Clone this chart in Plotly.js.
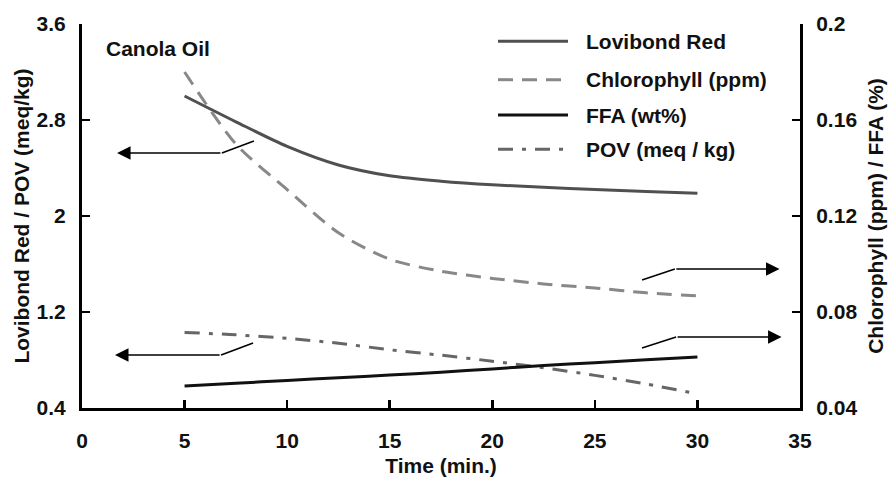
<!DOCTYPE html>
<html>
<head>
<meta charset="utf-8">
<script src="https://cdn.plot.ly/plotly-3.0.1.min.js"></script>
<style>html,body{margin:0;padding:0;background:#fff;}#chart{width:889px;height:477px;}</style>
</head>
<body>
<div id="chart"></div>
<script>
// ---- data ----
const timeMin = [5, 7.5, 10, 12.5, 15, 17.5, 20, 22.5, 25, 27.5, 30];
const lovibondRed = [3.0, 2.785, 2.58, 2.425, 2.335, 2.29, 2.26, 2.24, 2.22, 2.205, 2.19];
const chlorophyll = [0.180, 0.150, 0.131, 0.113, 0.102, 0.097, 0.094, 0.0917, 0.090, 0.088, 0.0867];
const ffa = [0.0492, 0.0503, 0.0515, 0.0526, 0.0537, 0.0549, 0.0563, 0.0577, 0.0589, 0.0601, 0.0612];
const pov = [1.03, 1.01, 0.98, 0.94, 0.885, 0.84, 0.79, 0.735, 0.672, 0.60, 0.517];

const seriesNames = ['Lovibond Red', 'Chlorophyll (ppm)', 'FFA (wt%)', 'POV (meq / kg)'];
const xTicks = [0, 5, 10, 15, 20, 25, 30, 35];
const yLeftTicks = [0.4, 1.2, 2, 2.8, 3.6];
const yLeftTickText = ['0.4', '1.2', '2', '2.8', '3.6'];
const yRightTicks = [0.04, 0.08, 0.12, 0.16, 0.2];
const yRightTickText = ['0.04', '0.08', '0.12', '0.16', '0.2'];

// ---- styles ----
const FONT = 'Liberation Sans, Arial, sans-serif';
const TXT = '#111';
const FS = 21;
const styles = [
  {color: '#505050', dash: 'solid', axis: 'y'},
  {color: '#888888', dash: '15px,9px', axis: 'y2'},
  {color: '#111111', dash: 'solid', axis: 'y2'},
  {color: '#666666', dash: '15px,9px,4px,9px', axis: 'y'}
];
const seriesData = [lovibondRed, chlorophyll, ffa, pov];

const traces = seriesData.map((vals, i) => ({
  x: timeMin, y: vals, name: seriesNames[i], type: 'scatter', mode: 'lines',
  yaxis: styles[i].axis,
  line: {color: styles[i].color, width: 3, dash: styles[i].dash, shape: 'spline', smoothing: 0.8},
  showlegend: false, hoverinfo: 'skip'
}));

// custom legend (paper coordinates)
const legY = [0.955, 0.855, 0.763, 0.674];
const shapes = [];
const annotations = [];
seriesNames.forEach((n, i) => {
  shapes.push({type: 'line', xref: 'paper', yref: 'paper',
    x0: (498 - 82) / 718, x1: (568 - 82) / 718, y0: legY[i], y1: legY[i],
    line: {color: styles[i].color, width: 3, dash: styles[i].dash}});
  annotations.push({xref: 'paper', yref: 'paper', x: (584 - 82) / 718, y: legY[i],
    xanchor: 'left', yanchor: 'middle', showarrow: false, text: n,
    font: {family: FONT, size: FS, color: TXT, weight: 'bold'}});
});

// arrows pointing to axes
function arrow(xHead, xCorner, yH, xEnd, yEnd, yref) {
  annotations.push({x: xHead, y: yH, ax: xCorner, ay: yH, xref: 'x', yref: yref,
    axref: 'x', ayref: yref, text: '', showarrow: true, arrowhead: 2,
    arrowsize: 1.8, arrowwidth: 1.5, arrowcolor: '#000'});
  shapes.push({type: 'line', xref: 'x', yref: yref, x0: xCorner, y0: yH, x1: xEnd, y1: yEnd,
    line: {color: '#000', width: 1.5}});
}
arrow(1.71, 6.82, 2.525, 8.38, 2.625, 'y');
arrow(1.61, 6.78, 0.842, 8.34, 0.942, 'y');
arrow(34.0, 28.9, 0.0979, 27.3, 0.0933, 'y2');
arrow(34.1, 28.96, 0.0696, 27.3, 0.0650, 'y2');

annotations.push({xref: 'paper', yref: 'paper', x: (104 - 82) / 718, y: (408 - 49) / 384,
  xanchor: 'left', yanchor: 'middle', showarrow: false, text: 'Canola Oil',
  font: {family: FONT, size: FS, color: TXT, weight: 'bold'}});

const axisCommon = {
  showgrid: false, zeroline: false, showline: true, linecolor: '#000', linewidth: 3,
  ticks: 'inside', ticklen: 8, tickwidth: 2.5, tickcolor: '#000',
  tickfont: {family: FONT, size: FS, color: TXT, weight: 'bold'}
};

const layout = {
  width: 889, height: 477,
  margin: {l: 82, r: 89, t: 24, b: 69, pad: 0},
  paper_bgcolor: '#fff', plot_bgcolor: '#fff',
  showlegend: false,
  xaxis: Object.assign({}, axisCommon, {
    range: [0, 35], tickvals: xTicks, ticklabelstandoff: 12,
    title: {text: 'Time (min.)', standoff: 10, font: {family: FONT, size: FS, color: TXT, weight: 'bold'}}
  }),
  yaxis: Object.assign({}, axisCommon, {
    range: [0.4, 3.6], tickvals: yLeftTicks, ticktext: yLeftTickText, ticklabelstandoff: 9,
    title: {text: 'Lovibond Red / POV (meq/kg)', standoff: 2, font: {family: FONT, size: FS, color: TXT, weight: 'bold'}}
  }),
  yaxis2: Object.assign({}, axisCommon, {
    range: [0.04, 0.2], tickvals: yRightTicks, ticktext: yRightTickText, overlaying: 'y', side: 'right',
    ticklabelstandoff: 9,
    title: {text: 'Chlorophyll (ppm) / FFA (%)', standoff: 12, font: {family: FONT, size: FS, color: TXT, weight: 'bold'}}
  }),
  shapes: shapes,
  annotations: annotations
};

Plotly.newPlot('chart', traces, layout, {staticPlot: true, displayModeBar: false});
</script>
</body>
</html>
